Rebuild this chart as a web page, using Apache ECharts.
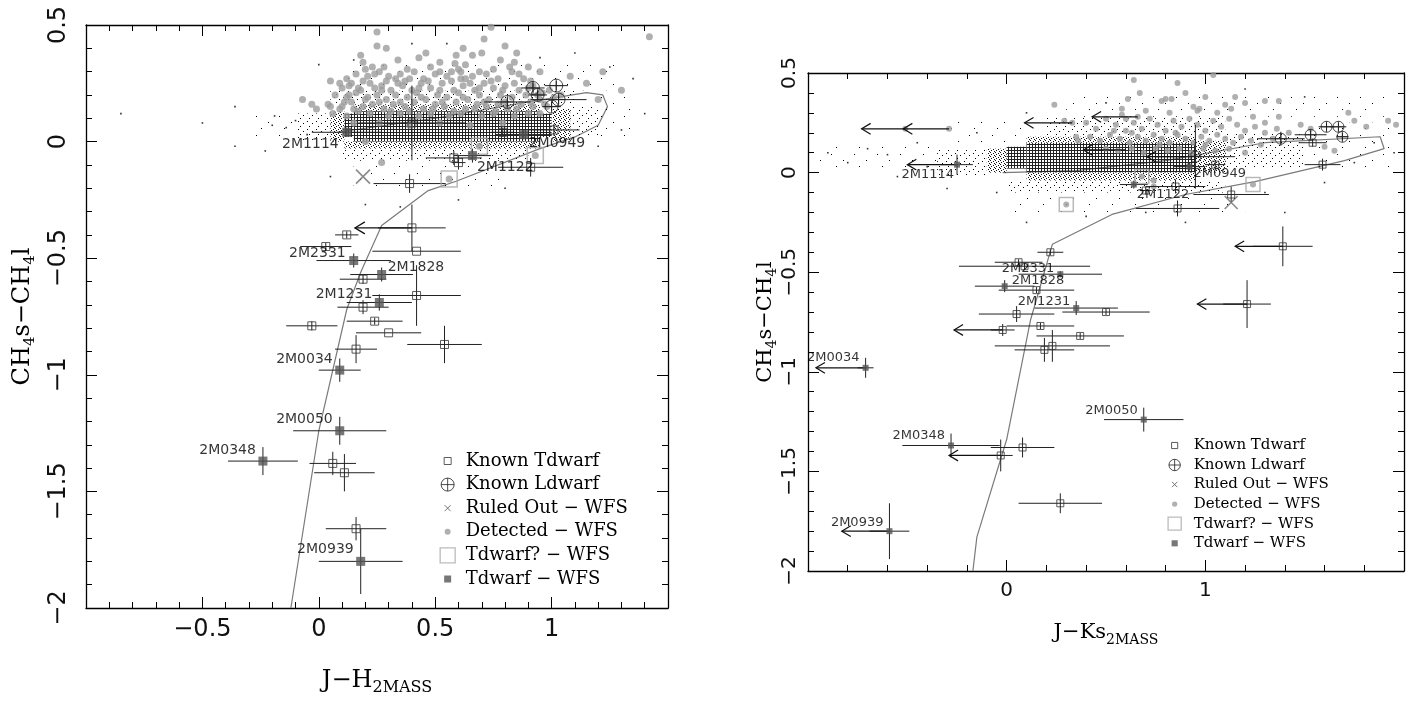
<!DOCTYPE html>
<html>
<head>
<meta charset="utf-8">
<script src="https://cdn.jsdelivr.net/npm/echarts@6/dist/echarts.min.js"></script>
<style>
  html, body { margin: 0; padding: 0; background: #fff; }
  #chart { width: 1413px; height: 702px; }
</style>
</head>
<body>
<div id="chart"></div>
<script>
// ---------- data: left panel, J-H (2MASS) vs CH4s-CH4l ----------
// rows: [x, y, xerr, yerr]
const knownT_JH = [
  [0.40, 0.08, 0.23, 0.16], [1.01, 0.05, 0.11, 0.025], [0.79, 0.04, 0.05, 0.02],
  [0.58, -0.07, 0.12, 0.03], [0.60, -0.09, 0.03, 0.03], [0.91, -0.11, 0.14, 0.04],
  [0.39, -0.18, 0.155, 0.04], [0.40, -0.37, 0.145, 0.10], [0.12, -0.40, 0.05, 0.015],
  [0.03, -0.45, 0.11, 0.015], [0.42, -0.47, 0.19, 0.0], [0.19, -0.59, 0.10, 0.02],
  [0.42, -0.66, 0.19, 0.13], [0.19, -0.71, 0.11, 0.03], [0.24, -0.77, 0.12, 0.015],
  [-0.03, -0.79, 0.11, 0.02], [0.30, -0.82, 0.14, 0.0], [0.16, -0.89, 0.09, 0.06],
  [0.54, -0.87, 0.16, 0.08], [0.06, -1.38, 0.10, 0.05], [0.11, -1.42, 0.13, 0.08],
  [0.16, -1.66, 0.13, 0.05]
];
const knownL_JH = [
  [0.92, 0.23, 0.05, 0.02], [0.94, 0.20, 0.04, 0.02], [1.02, 0.24, 0.05, 0.02],
  [1.03, 0.18, 0.12, 0.02], [0.81, 0.17, 0.10, 0.02], [1.00, 0.15, 0.04, 0.02]
];
const ruledOut_JH = [[0.19, -0.15]];
const tdwarfQ_JH = [[0.69, -0.02], [0.93, -0.06], [0.56, -0.16]];
const wfsNames = ['2M1114', '2M0949', '2M1122', '2M2331', '2M1828', '2M1231', '2M0034', '2M0050', '2M0348', '2M0939'];
const tdwarfWFS_JH = [
  [0.12, 0.04, 0.15, 0.02], [0.88, 0.03, 0.12, 0.02], [0.66, -0.06, 0.08, 0.03],
  [0.15, -0.51, 0.16, 0.03], [0.27, -0.57, 0.135, 0.03], [0.26, -0.69, 0.14, 0.035],
  [0.09, -0.98, 0.09, 0.05], [0.09, -1.24, 0.20, 0.06], [-0.24, -1.37, 0.15, 0.06],
  [0.18, -1.80, 0.18, 0.14]
];
// [x start, y, x end] for upper limits
const upperLimits_JH = [[0.40, -0.37, 0.155]];
const track_JH = [
  [0.08, 0.04], [0.5, 0.10], [0.9, 0.17], [1.15, 0.21], [1.22, 0.20], [1.24, 0.15],
  [1.20, 0.07], [1.10, 0.02], [0.95, -0.03], [0.59, -0.17], [0.47, -0.21], [0.27, -0.36],
  [0.18, -0.56], [0.12, -0.72], [0.0, -1.24], [-0.12, -2.0]
];
const detected_JH = [
  [0.25, 0.47], [0.25, 0.41], [0.29, 0.40], [0.74, 0.49], [0.71, 0.44], [0.46, 0.38], [0.59, 0.37],
  [0.66, 0.37], [0.70, 0.38], [0.585, 0.335], [0.61, 0.30], [0.69, 0.30], [0.78, 0.35], [0.85, 0.38],
  [0.82, 0.32], [0.84, 0.34], [0.86, 0.29], [0.91, 0.26], [0.95, 0.30], [1.08, 0.28], [0.19, 0.34],
  [0.23, 0.32], [0.24, 0.29], [0.05, 0.26], [0.09, 0.25], [-0.07, 0.18], [-0.03, 0.16], [-0.01, 0.14],
  [0.05, 0.15], [0.09, 0.14], [0.13, 0.20], [0.17, 0.23], [0.27, 0.22], [0.33, 0.27], [0.37, 0.26],
  [0.52, 0.34], [0.52, 0.30], [0.57, 0.30], [0.63, 0.27], [0.95, 0.12], [0.98, 0.15], [0.27, -0.09],
  [0.20, 0.0], [0.69, -0.02], [0.93, -0.06], [0.56, -0.16], [1.15, 0.25], [1.22, 0.30], [1.30, 0.22],
  [1.42, 0.45], [1.20, 0.18],
  [0.12, 0.27], [0.16, 0.29], [0.21, 0.28], [0.26, 0.30], [0.30, 0.28], [0.35, 0.29], [0.41, 0.30],
  [0.45, 0.27], [0.50, 0.29], [0.55, 0.28], [0.60, 0.31], [0.66, 0.28], [0.72, 0.29], [0.77, 0.27],
  [0.83, 0.30], [0.88, 0.27], [0.10, 0.23], [0.14, 0.25], [0.18, 0.22], [0.22, 0.25], [0.27, 0.24],
  [0.31, 0.22], [0.36, 0.24], [0.40, 0.22], [0.44, 0.25], [0.48, 0.23], [0.53, 0.25], [0.58, 0.22],
  [0.62, 0.24], [0.67, 0.22], [0.71, 0.25], [0.75, 0.23], [0.80, 0.24], [0.86, 0.22], [0.92, 0.24],
  [0.99, 0.22], [1.04, 0.20], [0.07, 0.20], [0.12, 0.19], [0.16, 0.21], [0.20, 0.18], [0.25, 0.20],
  [0.29, 0.18], [0.33, 0.20], [0.38, 0.19], [0.42, 0.21], [0.46, 0.18], [0.51, 0.20], [0.55, 0.19],
  [0.60, 0.21], [0.64, 0.18], [0.69, 0.20], [0.73, 0.18], [0.78, 0.20], [0.83, 0.19], [0.89, 0.20],
  [0.95, 0.18], [1.01, 0.19], [0.04, 0.16], [0.10, 0.15], [0.14, 0.17], [0.19, 0.15], [0.23, 0.16],
  [0.28, 0.14], [0.32, 0.16], [0.37, 0.15], [0.41, 0.17], [0.45, 0.14], [0.50, 0.16], [0.54, 0.15],
  [0.59, 0.17], [0.63, 0.14], [0.68, 0.16], [0.72, 0.15], [0.77, 0.16], [0.81, 0.14], [0.87, 0.16],
  [0.92, 0.15], [0.97, 0.16], [0.06, 0.12], [0.12, 0.11], [0.17, 0.13], [0.22, 0.12], [0.30, 0.11],
  [0.35, 0.12], [0.43, 0.11], [0.48, 0.12], [0.56, 0.11], [0.61, 0.12], [0.70, 0.11], [0.75, 0.12],
  [0.84, 0.11], [0.90, 0.12], [0.15, 0.08], [0.26, 0.08], [0.39, 0.07], [0.52, 0.08], [0.65, 0.07],
  [0.79, 0.08],
  [0.13, 0.24], [0.19, 0.26], [0.24, 0.23], [0.29, 0.26], [0.34, 0.25], [0.39, 0.27], [0.43, 0.23],
  [0.47, 0.26], [0.52, 0.22], [0.57, 0.26], [0.61, 0.27], [0.65, 0.25], [0.69, 0.23], [0.74, 0.26],
  [0.79, 0.22], [0.84, 0.25], [0.90, 0.23], [0.96, 0.21], [0.11, 0.17], [0.15, 0.14], [0.21, 0.19],
  [0.26, 0.17], [0.31, 0.13], [0.35, 0.17], [0.39, 0.13], [0.44, 0.19], [0.49, 0.14], [0.53, 0.17],
  [0.58, 0.13], [0.62, 0.19], [0.67, 0.14], [0.71, 0.17], [0.76, 0.13], [0.80, 0.17], [0.85, 0.14],
  [0.91, 0.17], [0.94, 0.20], [0.20, 0.31], [0.28, 0.32], [0.38, 0.31], [0.48, 0.32], [0.63, 0.33],
  [0.75, 0.31], [0.90, 0.32], [0.18, 0.37], [0.34, 0.35], [0.43, 0.36], [0.62, 0.40], [0.80, 0.41]
];
// field objects: density cells [x0, x1, y0, y1, level] and isolated dots
const cloudCells_JH = [
  [0.15, 0.95, 0.00, 0.13, 4], [0.11, 0.15, 0.02, 0.12, 4], [0.95, 1.00, 0.02, 0.12, 4],
  [0.05, 0.11, 0.00, 0.13, 3], [0.11, 0.95, -0.03, 0.00, 3], [0.15, 0.95, 0.13, 0.16, 3],
  [1.00, 1.08, 0.00, 0.14, 3], [-0.10, 0.05, 0.00, 0.12, 2], [0.10, 0.90, -0.08, -0.03, 2],
  [1.08, 1.20, 0.02, 0.15, 2], [0.05, 1.10, 0.16, 0.22, 2], [-0.30, -0.10, 0.02, 0.12, 1],
  [0.15, 0.80, -0.20, -0.08, 1], [0.10, 1.30, 0.22, 0.34, 1], [1.20, 1.35, 0.02, 0.20, 1]
];
const cloudStray_JH = [
  [-0.85, 0.12], [-0.36, 0.15], [-0.36, -0.02], [-0.23, -0.04], [-0.19, 0.11], [-0.20, 0.07],
  [-0.14, 0.06], [-0.10, 0.09], [0.00, 0.33], [0.15, 0.35], [0.40, 0.42], [0.55, 0.42], [0.95, 0.36],
  [1.10, 0.38], [1.25, 0.32], [1.35, 0.27], [1.40, 0.12], [1.30, 0.05], [0.20, -0.27], [0.35, -0.28],
  [0.60, -0.25], [0.05, -0.15], [0.80, -0.20], [-0.05, 0.03], [1.20, -0.02], [-0.50, 0.08]
];

// ---------- data: right panel, J-Ks (2MASS) vs CH4s-CH4l ----------
const knownT_JK = [
  [1.05, 0.04, 0.05, 0.02], [0.85, -0.07, 0.15, 0.035], [0.70, -0.09, 0.03, 0.02],
  [1.13, -0.11, 0.19, 0.04], [0.86, -0.18, 0.21, 0.04], [1.54, 0.15, 0.07, 0.02],
  [1.59, 0.04, 0.09, 0.03], [1.39, -0.37, 0.15, 0.10], [1.21, -0.66, 0.12, 0.12],
  [0.22, -0.40, 0.065, 0.015], [0.06, -0.45, 0.12, 0.015], [0.09, -0.47, 0.33, 0.015],
  [0.15, -0.59, 0.19, 0.015], [0.50, -0.70, 0.22, 0.015], [0.05, -0.71, 0.19, 0.04],
  [-0.02, -0.79, 0.06, 0.03], [0.17, -0.77, 0.17, 0.015], [0.37, -0.82, 0.22, 0.015],
  [0.19, -0.89, 0.15, 0.06], [0.23, -0.87, 0.29, 0.08], [-0.03, -1.42, 0.06, 0.08],
  [0.08, -1.38, 0.16, 0.05], [0.27, -1.66, 0.21, 0.05]
];
const knownL_JK = [
  [0.95, 0.08, 0.20, 0.16], [1.38, 0.17, 0.12, 0.035], [1.53, 0.19, 0.08, 0.02],
  [1.61, 0.23, 0.04, 0.02], [1.67, 0.23, 0.04, 0.02], [1.69, 0.18, 0.03, 0.02]
];
const ruledOut_JK = [[1.13, -0.15]];
const tdwarfQ_JK = [[0.30, -0.16], [0.68, -0.02], [1.24, -0.06]];
const tdwarfWFS_JK = [
  [-0.25, 0.04, 0.08, 0.05], [0.92, 0.03, 0.08, 0.02], [0.64, -0.06, 0.07, 0.02],
  [0.27, -0.51, 0.21, 0.015], [-0.01, -0.57, 0.15, 0.03], [0.35, -0.68, 0.21, 0.035],
  [-0.71, -0.98, 0.04, 0.05], [0.69, -1.24, 0.20, 0.06], [-0.28, -1.37, 0.245, 0.06],
  [-0.59, -1.80, 0.10, 0.14]
];
const upperLimits_JK = [
  [-0.29, 0.22, -0.52], [-0.51, 0.22, -0.73], [0.33, 0.25, 0.09], [0.66, 0.28, 0.43],
  [0.60, 0.114, 0.387], [0.90, 0.08, 0.706], [-0.25, 0.04, -0.50], [1.39, -0.37, 1.15],
  [1.21, -0.66, 0.96], [-0.02, -0.79, -0.265], [-0.03, -1.42, -0.29], [-0.71, -0.98, -0.96],
  [-0.59, -1.80, -0.83]
];
const track_JK = [
  [-0.02, 0.0], [0.35, 0.01], [0.8, 0.06], [1.3, 0.15], [1.88, 0.18], [1.90, 0.12], [1.70, 0.06],
  [1.25, -0.045], [0.90, -0.11], [0.53, -0.21], [0.23, -0.36], [0.12, -0.74], [0.0, -1.34],
  [-0.15, -1.83], [-0.17, -2.0]
];
const detected_JK = [
  [0.64, 0.465], [0.67, 0.40], [0.80, 0.37], [0.78, 0.36], [0.83, 0.37], [1.04, 0.49], [0.61, 0.37],
  [0.58, 0.32], [0.60, 0.27], [0.24, 0.34], [0.29, 0.26], [0.96, 0.31], [0.94, 0.33], [1.10, 0.34],
  [1.13, 0.32], [1.20, 0.35], [1.30, 0.36], [1.37, 0.36], [1.24, 0.28], [1.30, 0.25], [1.37, 0.28],
  [1.48, 0.24], [1.53, 0.22], [1.72, 0.30], [1.75, 0.26], [1.81, 0.23], [1.92, 0.26], [1.96, 0.24],
  [1.65, 0.11], [1.60, 0.13], [0.35, 0.18], [0.36, 0.16], [0.74, -0.04], [0.74, -0.07], [0.86, 0.45],
  [0.90, 0.40], [1.00, 0.38], [1.15, 0.38], [-0.29, 0.22], [-0.51, 0.22], [0.33, 0.25], [0.66, 0.28],
  [0.30, -0.16], [0.68, -0.02], [1.24, -0.06],
  [0.40, 0.25], [0.45, 0.22], [0.50, 0.27], [0.55, 0.24], [0.60, 0.21], [0.64, 0.25], [0.68, 0.22],
  [0.72, 0.27], [0.76, 0.24], [0.80, 0.21], [0.84, 0.26], [0.88, 0.23], [0.92, 0.27], [0.96, 0.24],
  [1.00, 0.21], [1.04, 0.26], [1.08, 0.23], [1.12, 0.27], [1.16, 0.24], [1.20, 0.21], [1.25, 0.23],
  [1.30, 0.20], [1.36, 0.22], [1.42, 0.20], [0.42, 0.18], [0.47, 0.16], [0.52, 0.19], [0.57, 0.17],
  [0.62, 0.15], [0.66, 0.18], [0.70, 0.16], [0.74, 0.19], [0.78, 0.17], [0.82, 0.15], [0.86, 0.19],
  [0.90, 0.17], [0.94, 0.15], [0.98, 0.18], [1.02, 0.16], [1.06, 0.19], [1.10, 0.17], [1.14, 0.15],
  [1.18, 0.18], [1.23, 0.16], [1.28, 0.14], [1.34, 0.17], [0.50, 0.12], [0.56, 0.11], [0.63, 0.12],
  [0.69, 0.10], [0.75, 0.12], [0.81, 0.11], [0.87, 0.12], [0.93, 0.10], [0.99, 0.12], [1.05, 0.11],
  [1.12, 0.12], [1.20, 0.10], [0.58, 0.29], [0.70, 0.31], [0.82, 0.30], [0.97, 0.32], [1.06, 0.30],
  [0.63, 0.20], [0.85, 0.20], [1.00, 0.14], [0.77, 0.14], [0.54, 0.21]
];
const cloudCells_JK = [
  [0.10, 0.95, 0.00, 0.15, 4], [0.00, 0.10, 0.02, 0.13, 4], [-0.10, 0.00, 0.00, 0.12, 3],
  [0.95, 1.10, 0.00, 0.16, 3], [0.10, 0.95, -0.04, 0.00, 3], [0.10, 0.95, 0.15, 0.18, 3],
  [-0.35, -0.10, -0.02, 0.12, 2], [1.10, 1.50, 0.02, 0.20, 2], [0.00, 1.10, -0.10, -0.04, 2],
  [0.20, 1.10, 0.18, 0.28, 2], [-0.95, -0.35, 0.00, 0.14, 1], [1.50, 1.95, 0.00, 0.25, 1],
  [0.00, 1.20, -0.20, -0.10, 1], [-0.30, 0.10, 0.13, 0.26, 1], [0.30, 1.90, 0.28, 0.40, 1]
];
const cloudStray_JK = [
  [-0.90, 0.10], [-0.80, 0.05], [-0.70, 0.12], [-0.60, 0.09], [-0.45, 0.15], [-0.40, 0.03],
  [-0.55, -0.02], [-0.15, 0.20], [-0.05, -0.10], [0.10, -0.25], [0.40, -0.22], [0.70, -0.20],
  [0.90, -0.25], [1.30, -0.10], [1.60, -0.05], [1.75, 0.05], [1.85, 0.15], [1.95, 0.10],
  [1.50, 0.38], [1.20, 0.42], [0.50, 0.35], [0.10, 0.30], [-0.30, -0.08], [1.40, -0.20]
];

// ---------- styles ----------
// label placement for the WFS T dwarfs: [side, px from marker centre, vertical offset]
const LABEL_JH = {
  '2M1114': ['left', 8, 12], '2M0949': ['right', 5, 9], '2M1122': ['right', 1, 12],
  '2M2331': ['left', 8, -7], '2M1828': ['right', 6, -7], '2M1231': ['left', 7, -8],
  '2M0034': ['left', 7, -11], '2M0050': ['left', 7, -11], '2M0348': ['left', 7, -11],
  '2M0939': ['left', 7, -12]
};
const LABEL_JK = {
  '2M1114': ['left', 3, 10], '2M0949': ['right', 4, 7], '2M1122': ['right', 1, 10],
  '2M2331': ['left', 6, -6], '2M1828': ['right', 7, -6], '2M1231': ['left', 6, -6],
  '2M0034': ['left', 6, -10], '2M0050': ['left', 6, -9], '2M0348': ['left', 6, -10],
  '2M0939': ['left', 6, -9]
};

const X_PATH = 'path://M-5,-5L5,5M-5,5L5,-5';
const L_PATH = 'path://M-6,0A6,6,0,1,1,6,0A6,6,0,1,1,-6,0ZM-6,0L6,0M0,-6L0,6';
const PAD = 'M-8,-8M8,8';
const ICONS = {
  'Known Tdwarf': 'path://' + PAD + 'M-3.5,-3.5L3.5,-3.5L3.5,3.5L-3.5,3.5Z',
  'Known Ldwarf': 'path://' + PAD + 'M-6.5,0A6.5,6.5,0,1,1,6.5,0A6.5,6.5,0,1,1,-6.5,0ZM-6.5,0L6.5,0M0,-6.5L0,6.5',
  'Ruled Out − WFS': 'path://' + PAD + 'M-3,-3L3,3M-3,3L3,-3',
  'Detected − WFS': 'path://' + PAD + 'M-3,0A3,3,0,1,1,3,0A3,3,0,1,1,-3,0Z',
  'Tdwarf? − WFS': 'path://' + PAD + 'M-7.5,-7.5L7.5,-7.5L7.5,7.5L-7.5,7.5Z',
  'Tdwarf − WFS': 'path://' + PAD + 'M-3.5,-3.5L3.5,-3.5L3.5,3.5L-3.5,3.5Z'
};
const NONE = 'rgba(0,0,0,0)';
const ICON_STYLE = {
  'Known Tdwarf': { color: NONE, borderColor: '#333', borderWidth: 1 },
  'Known Ldwarf': { color: NONE, borderColor: '#222', borderWidth: 1 },
  'Ruled Out − WFS': { color: NONE, borderColor: '#555', borderWidth: 1 },
  'Detected − WFS': { color: '#9c9c9c', borderWidth: 0 },
  'Tdwarf? − WFS': { color: NONE, borderColor: '#aaa', borderWidth: 1.3 },
  'Tdwarf − WFS': { color: '#555', borderWidth: 0 }
};

function makePattern(w, h, dots, color) {
  const c = document.createElement('canvas');
  c.width = w; c.height = h;
  const g = c.getContext('2d');
  g.fillStyle = color;
  dots.forEach(([px, py]) => g.fillRect(px, py, 1, 1));
  return { image: c, repeat: 'repeat' };
}
const PATTERNS = {
  1: makePattern(23, 19, [[3, 2], [15, 8], [8, 14]], '#000'),
  2: makePattern(9, 8, [[1, 1], [6, 3], [3, 6]], '#000'),
  3: makePattern(5, 4, [[0, 0], [3, 1], [1, 2], [4, 3]], '#111'),
  4: makePattern(3, 3, [[0, 0], [1, 0], [2, 0], [0, 1], [0, 2]], '#222')
};

function cellRender(params, api) {
  const p0 = api.coord([api.value(0), api.value(3)]);
  const p1 = api.coord([api.value(1), api.value(2)]);
  return {
    type: 'rect',
    shape: { x: p0[0], y: p0[1], width: p1[0] - p0[0], height: p1[1] - p0[1] },
    style: { fill: PATTERNS[api.value(4)] }
  };
}

function barRender(params, api) {
  const x = api.value(0), y = api.value(1), xe = api.value(2), ye = api.value(3);
  const a = api.coord([x - xe, y]), b = api.coord([x + xe, y]);
  const c = api.coord([x, y - ye]), d = api.coord([x, y + ye]);
  const st = { stroke: '#222', lineWidth: 1 };
  return {
    type: 'group',
    children: [
      { type: 'line', shape: { x1: a[0], y1: a[1], x2: b[0], y2: b[1] }, style: st },
      { type: 'line', shape: { x1: c[0], y1: c[1], x2: d[0], y2: d[1] }, style: st }
    ]
  };
}

function arrowRender(head) {
  return function (params, api) {
    const s = api.coord([api.value(0), api.value(1)]);
    const e = api.coord([api.value(2), api.value(1)]);
    const st = { stroke: '#111', lineWidth: 1.2, fill: null };
    return {
      type: 'group',
      children: [
        { type: 'line', shape: { x1: s[0], y1: s[1], x2: e[0], y2: e[1] }, style: st },
        { type: 'polyline', shape: { points: [[e[0] + head, e[1] - head * 0.6], [e[0], e[1]], [e[0] + head, e[1] + head * 0.6]] }, style: st }
      ]
    };
  };
}

function panelSeries(d, xi, yi, s) {
  const ax = { xAxisIndex: xi, yAxisIndex: yi };
  const xy = r => [r[0], r[1]];
  return [
    { type: 'line', ...ax, data: d.track, symbol: 'none', silent: true, z: 1,
      lineStyle: { color: '#7a7a7a', width: 1.2 } },
    { type: 'custom', ...ax, data: d.cells, encode: { x: [0, 1], y: [2, 3] },
      renderItem: cellRender, silent: true, clip: true, z: 2 },
    { type: 'scatter', ...ax, data: d.stray, symbol: 'rect', symbolSize: 1.6, silent: true, z: 2,
      itemStyle: { color: '#000' } },
    { type: 'scatter', name: 'Detected − WFS', ...ax, data: d.detected, symbol: 'circle',
      symbolSize: s.dot, itemStyle: { color: '#9c9c9c' }, z: 3 },
    { type: 'custom', ...ax, data: d.knownT.concat(d.knownL, d.wfs), encode: { x: 0, y: 1 },
      renderItem: barRender, silent: true, clip: true, z: 4 },
    { type: 'custom', ...ax, data: d.arrows, encode: { x: [0, 2], y: 1 },
      renderItem: arrowRender(s.head), silent: true, clip: true, z: 4 },
    { type: 'scatter', name: 'Tdwarf? − WFS', ...ax, data: d.tq, symbol: 'rect', symbolSize: s.tq, z: 5,
      itemStyle: { color: NONE, borderColor: '#a8a8a8', borderWidth: 1.5 } },
    { type: 'scatter', name: 'Ruled Out − WFS', ...ax, data: d.ruled, symbol: X_PATH, symbolSize: s.x, z: 5,
      itemStyle: { color: NONE, borderColor: '#6e6e6e', borderWidth: 1.6 } },
    { type: 'scatter', name: 'Known Tdwarf', ...ax, data: d.knownT.map(xy), symbol: 'rect', symbolSize: s.t, z: 6,
      itemStyle: { color: NONE, borderColor: '#333', borderWidth: 1 } },
    { type: 'scatter', name: 'Known Ldwarf', ...ax, data: d.knownL.map(xy), symbol: L_PATH, symbolSize: s.l, z: 6,
      itemStyle: { color: NONE, borderColor: '#222', borderWidth: 1 } },
    { type: 'scatter', name: 'Tdwarf − WFS', ...ax, symbol: 'rect', symbolSize: s.w, z: 7,
      itemStyle: { color: '#555' },
      label: { show: true, formatter: '{b}', fontSize: s.lab, color: '#000', fontFamily: 'DejaVu Sans' },
      data: d.wfs.map((r, i) => {
        const L = d.labels[wfsNames[i]];
        return { name: wfsNames[i], value: [r[0], r[1]],
          label: { position: L[0], distance: Math.max(0, L[1] - s.w / 2), offset: [0, L[2]] } };
      }) }
  ];
}

const fmt = v => (v < 0 ? '−' + String(-v) : String(v));

function xAxisCfg(grid, min, max, interval, pos, opt) {
  return {
    type: 'value', gridIndex: grid, position: pos, min, max, interval,
    axisLine: { show: true, onZero: false, lineStyle: { color: '#000', width: 1.3 } },
    axisTick: { show: true, inside: true, length: 11, lineStyle: { color: '#000', width: 1 } },
    minorTick: { show: true, splitNumber: 5, length: 6, lineStyle: { color: '#000', width: 1 } },
    splitLine: { show: false }, minorSplitLine: { show: false },
    axisLabel: opt ? { show: true, fontSize: opt.fs, color: '#111', fontFamily: 'DejaVu Sans', margin: opt.margin,
      formatter: fmt, showMinLabel: false, showMaxLabel: false } : { show: false },
    name: opt ? opt.name : '', nameLocation: 'middle', nameGap: opt ? opt.gap : 0,
    nameTextStyle: opt ? { rich: opt.rich } : {}
  };
}
function yAxisCfg(grid, pos, opt) {
  return {
    type: 'value', gridIndex: grid, position: pos, min: -2, max: 0.5, interval: 0.5,
    axisLine: { show: true, onZero: false, lineStyle: { color: '#000', width: 1.3 } },
    axisTick: { show: true, inside: true, length: 11, lineStyle: { color: '#000', width: 1 } },
    minorTick: { show: true, splitNumber: 5, length: 6, lineStyle: { color: '#000', width: 1 } },
    splitLine: { show: false }, minorSplitLine: { show: false },
    axisLabel: opt ? { show: true, rotate: 90, fontSize: opt.fs, color: '#111', fontFamily: 'DejaVu Sans', margin: opt.margin, formatter: fmt } : { show: false },
    name: opt ? opt.name : '', nameLocation: 'middle', nameGap: opt ? opt.gap : 0, nameRotate: 90,
    nameTextStyle: opt ? { rich: opt.rich } : {}
  };
}
function richStyle(main, sub, lh) {
  return {
    m: { fontSize: main, fontFamily: 'DejaVu Serif', color: '#000', lineHeight: lh },
    s: { fontSize: sub, fontFamily: 'DejaVu Serif', color: '#000', verticalAlign: 'bottom', lineHeight: sub + 1 }
  };
}
const yName = '{m|CH}{s|4}{m|s−CH}{s|4}{m|l}';

const legendNames = ['Known Tdwarf', 'Known Ldwarf', 'Ruled Out − WFS', 'Detected − WFS', 'Tdwarf? − WFS', 'Tdwarf − WFS'];
const legendData = legendNames.map(n => ({ name: n, icon: ICONS[n], itemStyle: ICON_STYLE[n] }));

const chart = echarts.init(document.getElementById('chart'), null, { renderer: 'canvas' });
chart.setOption({
  animation: false,
  backgroundColor: '#fff',
  grid: [
    { left: 86, top: 25, width: 582, height: 583, containLabel: false, outerBoundsMode: 'none' },
    { left: 808, top: 73, width: 596, height: 498, containLabel: false, outerBoundsMode: 'none' }
  ],
  xAxis: [
    xAxisCfg(0, -1, 1.5, 0.5, 'bottom', { fs: 24, margin: 10, name: '{m|J−H}{s|2MASS}', gap: 58, rich: richStyle(24, 16, 30) }),
    xAxisCfg(0, -1, 1.5, 0.5, 'top', null),
    xAxisCfg(1, -1, 2, 1, 'bottom', { fs: 20, margin: 10, name: '{m|J−Ks}{s|2MASS}', gap: 48, rich: richStyle(21, 14, 28) }),
    xAxisCfg(1, -1, 2, 1, 'top', null)
  ],
  yAxis: [
    yAxisCfg(0, 'left', { fs: 24, margin: 15, name: yName, gap: 48, rich: richStyle(24, 15, 30) }),
    yAxisCfg(0, 'right', null),
    yAxisCfg(1, 'left', { fs: 20, margin: 8, name: yName, gap: 26, rich: richStyle(21, 14, 28) }),
    yAxisCfg(1, 'right', null)
  ],
  legend: [
    { orient: 'vertical', left: 434, top: 447, itemWidth: 26, itemHeight: 16, itemGap: 5.6,
      selectedMode: false, data: legendData,
      textStyle: { fontFamily: 'DejaVu Serif', fontSize: 18, color: '#000', lineHeight: 16 } },
    { orient: 'vertical', left: 1162, top: 433, itemWidth: 28, itemHeight: 14, itemGap: 4.5,
      selectedMode: false, data: legendData,
      textStyle: { fontFamily: 'DejaVu Serif', fontSize: 15, color: '#000', lineHeight: 14 } }
  ],
  series: [
    ...panelSeries({
      knownT: knownT_JH, knownL: knownL_JH, ruled: ruledOut_JH, tq: tdwarfQ_JH, wfs: tdwarfWFS_JH,
      arrows: upperLimits_JH, track: track_JH, detected: detected_JH, cells: cloudCells_JH,
      stray: cloudStray_JH, labels: LABEL_JH
    }, 0, 0, { dot: 7, t: 8, l: 13, x: 14, tq: 16, w: 9, head: 10, lab: 14 }),
    ...panelSeries({
      knownT: knownT_JK, knownL: knownL_JK, ruled: ruledOut_JK, tq: tdwarfQ_JK, wfs: tdwarfWFS_JK,
      arrows: upperLimits_JK, track: track_JK, detected: detected_JK, cells: cloudCells_JK,
      stray: cloudStray_JK, labels: LABEL_JK
    }, 2, 2, { dot: 6, t: 7, l: 11, x: 13, tq: 14, w: 6, head: 9, lab: 13 })
  ]
});
</script>
</body>
</html>
